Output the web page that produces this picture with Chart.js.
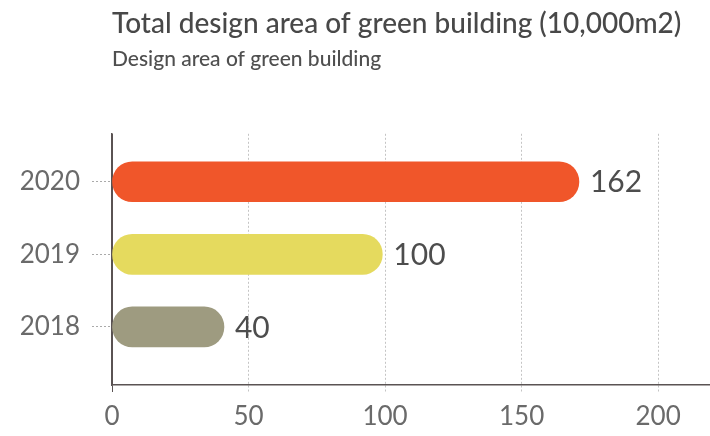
<!DOCTYPE html>
<html>
<head>
<meta charset="utf-8">
<script src="https://cdn.jsdelivr.net/npm/chart.js@4"></script>
<style>
  html, body { margin: 0; padding: 0; background: #fff; }
  canvas { display: block; }
</style>
</head>
<body>
<canvas id="areaChart" width="710" height="436"></canvas>
<script>
const categories = ['2020', '2019', '2018'];
const barValues = [171, 99, 41];
const valueLabels = ['162', '100', '40'];
const barColors = ['#f0562a', '#e5da5e', '#9e9b80'];
const xTicks = [0, 50, 100, 150, 200];

const axisColor = '#5a5353';
const gridColor = '#c4c4c4';
const font = 'Lato';

// numbers drawn right after each bar
const valueLabelPlugin = {
  id: 'valueLabels',
  afterDatasetsDraw(chart) {
    const ctx = chart.ctx;
    const meta = chart.getDatasetMeta(0);
    ctx.save();
    ctx.font = '30px ' + font;
    ctx.fillStyle = '#4d4d4d';
    ctx.textBaseline = 'middle';
    ctx.textAlign = 'left';
    meta.data.forEach((bar, i) => {
      ctx.fillText(valueLabels[i], bar.x + 11, bar.y + 1);
    });
    ctx.restore();
  }
};

new Chart(document.getElementById('areaChart').getContext('2d'), {
  type: 'bar',
  data: {
    datasets: [{
      data: barValues.map((v, i) => ({ x: v, y: i })),
      backgroundColor: barColors,
      borderWidth: 0,
      borderRadius: 20,
      borderSkipped: false,
      barThickness: 40
    }]
  },
  options: {
    indexAxis: 'y',
    responsive: false,
    animation: false,
    layout: { padding: 0 },
    plugins: {
      legend: { display: false },
      tooltip: { enabled: false },
      title: {
        display: true,
        text: 'Total design area of green building (10,000m2)',
        align: 'start',
        fullSize: false,
        color: '#484848',
        font: { family: font, size: 28, weight: '500' },
        padding: { top: 7, bottom: 4 }
      },
      subtitle: {
        display: true,
        text: 'Design area of green building',
        align: 'start',
        fullSize: false,
        color: '#4f4f4f',
        font: { family: font, size: 21, weight: '500' },
        padding: { top: 2, bottom: 62 }
      }
    },
    scales: {
      x: {
        type: 'linear',
        min: 0,
        max: 219,
        afterBuildTicks: s => { s.ticks = xTicks.map(v => ({ value: v })); },
        afterFit: s => { s.height = 51; },
        grid: {
          color: c => (c.tick && c.tick.value === 0 ? axisColor : gridColor),
          lineWidth: 1,
          tickLength: 7,
          tickBorderDash: c => (c.tick && c.tick.value === 0 ? [] : [2, 2])
        },
        border: {
          color: axisColor,
          width: 1.5,
          dash: c => (c.tick && c.tick.value === 0 ? [] : [2, 2])
        },
        ticks: {
          color: '#6a6a6a',
          font: { family: font, size: 26 },
          padding: 9
        }
      },
      y: {
        type: 'linear',
        reverse: true,
        offset: false,
        min: -0.66,
        max: 2.8,
        afterBuildTicks: s => { s.ticks = categories.map((c, i) => ({ value: i })); },
        afterFit: s => { s.width = 112; },
        grid: {
          offset: false,
          drawOnChartArea: false,
          tickLength: 20,
          tickColor: '#aaaaaa',
          tickBorderDash: [2, 2]
        },
        border: { color: axisColor, width: 1.5 },
        ticks: {
          color: '#6a6a6a',
          font: { family: font, size: 26 },
          padding: 12,
          callback: v => categories[v]
        }
      }
    }
  },
  plugins: [valueLabelPlugin]
});
</script>
</body>
</html>
